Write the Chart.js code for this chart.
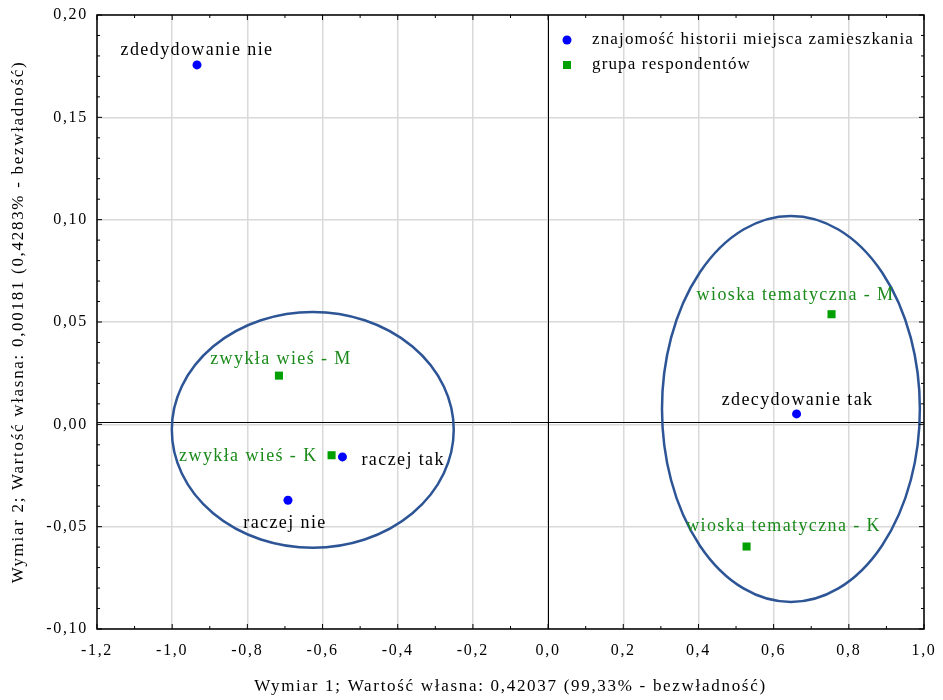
<!DOCTYPE html>
<html>
<head>
<meta charset="utf-8">
<script src="https://cdn.jsdelivr.net/npm/chart.js@4.4.1/dist/chart.umd.min.js"></script>
<style>
  html, body { margin: 0; padding: 0; background: #fff; }
</style>
</head>
<body>
<canvas id="myChart" width="943" height="700"></canvas>
<script>
// znajomość historii miejsca zamieszkania
const historyLabels = ['zdedydowanie nie', 'raczej nie', 'raczej tak', 'zdecydowanie tak'];
const historyX = [-0.934, -0.692, -0.547, 0.661];
const historyY = [0.1756, -0.0371, -0.0159, 0.0051];

// grupa respondentów
const groupLabels = ['zwykła wieś - M', 'zwykła wieś - K', 'wioska tematyczna - M', 'wioska tematyczna - K'];
const groupX = [-0.716, -0.576, 0.754, 0.528];
const groupY = [0.0238, -0.0151, 0.0538, -0.0597];

// elipsy (środek i półosie w jednostkach wymiarów)
const ellipseCX = [-0.626, 0.646];
const ellipseCY = [-0.0027, 0.0075];
const ellipseRX = [0.375, 0.343];
const ellipseRY = [0.0576, 0.0943];

// osie
const xMin = -1.2, xMax = 1.0, xStep = 0.2;
const yMin = -0.10, yMax = 0.20, yStep = 0.05;
const xTitle = 'Wymiar 1; Wartość własna: 0,42037 (99,33% - bezwładność)';
const yTitle = 'Wymiar 2; Wartość własna: 0,00181 (0,4283% - bezwładność)';
const legendNames = ['znajomość historii miejsca zamieszkania', 'grupa respondentów'];

// rozmieszczenie etykiet punktów (przesunięcie w px względem punktu)
const historyLabelPos = [
  { dx: 0, dy: -15, align: 'center' },
  { dx: -3, dy: 23, align: 'center' },
  { dx: 19, dy: 3, align: 'left' },
  { dx: 1, dy: -14, align: 'center' }
];
const groupLabelPos = [
  { dx: 2, dy: -16, align: 'center' },
  { dx: -14, dy: 1, align: 'right' },
  { dx: -36, dy: -19, align: 'center' },
  { dx: 37, dy: -20, align: 'center' }
];

const FONT = "'Liberation Serif', 'Times New Roman', serif";
const BLUE = '#0000ff';
const GREEN = '#00a000';
const GREEN_TEXT = '#1a8a1a';
const ELLIPSE_COLOR = '#2d5596';

function toPoints(xs, ys) {
  return xs.map((x, i) => ({ x: x, y: ys[i] }));
}

function commaFormat(digits) {
  return function(value) {
    return Number(value).toFixed(digits).replace('.', ',');
  };
}

// szerokie odstępy między literami jak w oryginale (osie)
const spacingPlugin = {
  id: 'spacing',
  beforeDraw(chart) {
    chart.ctx.letterSpacing = '1.7px';
  }
};

// elipsy i linie zerowe
const backgroundPlugin = {
  id: 'background',
  beforeDatasetsDraw(chart) {
    const { ctx, chartArea, scales: { x, y } } = chart;
    ctx.save();
    ctx.strokeStyle = '#000';
    ctx.lineWidth = 1;
    ctx.beginPath();
    const x0 = Math.round(x.getPixelForValue(0)) + 0.5;
    const y0 = Math.round(y.getPixelForValue(0)) - 1.5;
    ctx.moveTo(x0, chartArea.top);
    ctx.lineTo(x0, chartArea.bottom);
    ctx.moveTo(chartArea.left, y0);
    ctx.lineTo(chartArea.right, y0);
    ctx.stroke();

    ctx.strokeStyle = ELLIPSE_COLOR;
    ctx.lineWidth = 2.5;
    ellipseCX.forEach((cx, i) => {
      const px = x.getPixelForValue(cx);
      const py = y.getPixelForValue(ellipseCY[i]);
      const rx = Math.abs(x.getPixelForValue(cx + ellipseRX[i]) - px);
      const ry = Math.abs(y.getPixelForValue(ellipseCY[i] + ellipseRY[i]) - py);
      ctx.beginPath();
      ctx.ellipse(px, py, rx, ry, 0, 0, Math.PI * 2);
      ctx.stroke();
    });
    ctx.restore();
  }
};

// etykiety, ramka, znaczniki i legenda
const overlayPlugin = {
  id: 'overlay',
  afterDatasetsDraw(chart) {
    const ctx = chart.ctx;
    ctx.save();
    ctx.font = '18px ' + FONT;
    ctx.textBaseline = 'middle';
    ctx.letterSpacing = '1.4px';
    const drawLabels = (dsIndex, names, pos, color) => {
      const meta = chart.getDatasetMeta(dsIndex);
      ctx.fillStyle = color;
      meta.data.forEach((pt, i) => {
        ctx.textAlign = pos[i].align;
        ctx.fillText(names[i], pt.x + pos[i].dx, pt.y + pos[i].dy);
      });
    };
    drawLabels(0, historyLabels, historyLabelPos, '#000');
    drawLabels(1, groupLabels, groupLabelPos, GREEN_TEXT);
    ctx.restore();
  },
  afterDraw(chart) {
    const { ctx, chartArea, scales: { x, y } } = chart;
    ctx.save();
    ctx.strokeStyle = '#000';
    ctx.lineWidth = 1.5;
    ctx.strokeRect(chartArea.left, chartArea.top, chartArea.width, chartArea.height);

    // znaczniki wewnątrz ramki
    ctx.lineWidth = 1;
    ctx.beginPath();
    const nx = Math.round((xMax - xMin) / (xStep / 2));
    for (let i = 0; i <= nx; i++) {
      const px = x.getPixelForValue(xMin + i * xStep / 2);
      const len = i % 2 === 0 ? 5 : 3;
      ctx.moveTo(px, chartArea.bottom);
      ctx.lineTo(px, chartArea.bottom - len);
      ctx.moveTo(px, chartArea.top);
      ctx.lineTo(px, chartArea.top + len);
    }
    const ny = Math.round((yMax - yMin) / (yStep / 5));
    for (let i = 0; i <= ny; i++) {
      const py = y.getPixelForValue(yMin + i * yStep / 5);
      const len = i % 5 === 0 ? 5 : 3;
      ctx.moveTo(chartArea.left, py);
      ctx.lineTo(chartArea.left + len, py);
      ctx.moveTo(chartArea.right, py);
      ctx.lineTo(chartArea.right - len, py);
    }
    ctx.stroke();

    // legenda
    const lx = chartArea.left + 470;
    const ly = chartArea.top + 25;
    ctx.fillStyle = BLUE;
    ctx.beginPath();
    ctx.arc(lx, ly, 4.5, 0, Math.PI * 2);
    ctx.fill();
    ctx.fillStyle = GREEN;
    ctx.fillRect(lx - 4, ly + 25 - 4, 8, 8);
    ctx.fillStyle = '#000';
    ctx.font = '17px ' + FONT;
    ctx.textBaseline = 'middle';
    ctx.textAlign = 'left';
    ctx.letterSpacing = '1.15px';
    ctx.fillText(legendNames[0], lx + 25, ly);
    ctx.fillText(legendNames[1], lx + 25, ly + 25);
    ctx.restore();
  }
};

const config = {
  type: 'scatter',
  data: {
    datasets: [
      {
        label: legendNames[0],
        data: toPoints(historyX, historyY),
        pointStyle: 'circle',
        pointRadius: 4.5,
        backgroundColor: BLUE,
        borderColor: BLUE,
        borderWidth: 0
      },
      {
        label: legendNames[1],
        data: toPoints(groupX, groupY),
        pointStyle: 'rect',
        pointRadius: 5.7,
        backgroundColor: GREEN,
        borderColor: GREEN,
        borderWidth: 0
      }
    ]
  },
  options: {
    responsive: false,
    animation: false,
    devicePixelRatio: 1,
    layout: {
      padding: { top: 15, right: 19, bottom: 0, left: 0 }
    },
    plugins: {
      legend: { display: false },
      tooltip: { enabled: false }
    },
    scales: {
      x: {
        type: 'linear',
        position: 'bottom',
        min: xMin,
        max: xMax,
        afterFit: function(scale) {
          scale.height = 71;
          scale.paddingLeft = 0;
          scale.paddingRight = 0;
        },
        ticks: {
          stepSize: xStep,
          callback: commaFormat(1),
          color: '#000',
          font: { family: FONT, size: 16 },
          padding: 12
        },
        grid: { color: '#d9d9d9', lineWidth: 1.5, drawTicks: false },
        border: { display: false },
        title: {
          display: true,
          text: xTitle,
          color: '#000',
          font: { family: FONT, size: 17 },
          padding: { top: 0, bottom: 3 }
        }
      },
      y: {
        type: 'linear',
        min: yMin,
        max: yMax,
        afterFit: function(scale) {
          scale.width = 97;
          scale.paddingTop = 0;
          scale.paddingBottom = 0;
        },
        ticks: {
          stepSize: yStep,
          callback: commaFormat(2),
          color: '#000',
          font: { family: FONT, size: 16 },
          padding: 9
        },
        grid: { color: '#d9d9d9', lineWidth: 1.5, drawTicks: false },
        border: { display: false },
        title: {
          display: true,
          text: yTitle,
          color: '#000',
          font: { family: FONT, size: 17 },
          padding: { top: 8, bottom: 0 }
        }
      }
    }
  },
  plugins: [spacingPlugin, backgroundPlugin, overlayPlugin]
};

const myChart = new Chart(document.getElementById('myChart'), config);
</script>
</body>
</html>
